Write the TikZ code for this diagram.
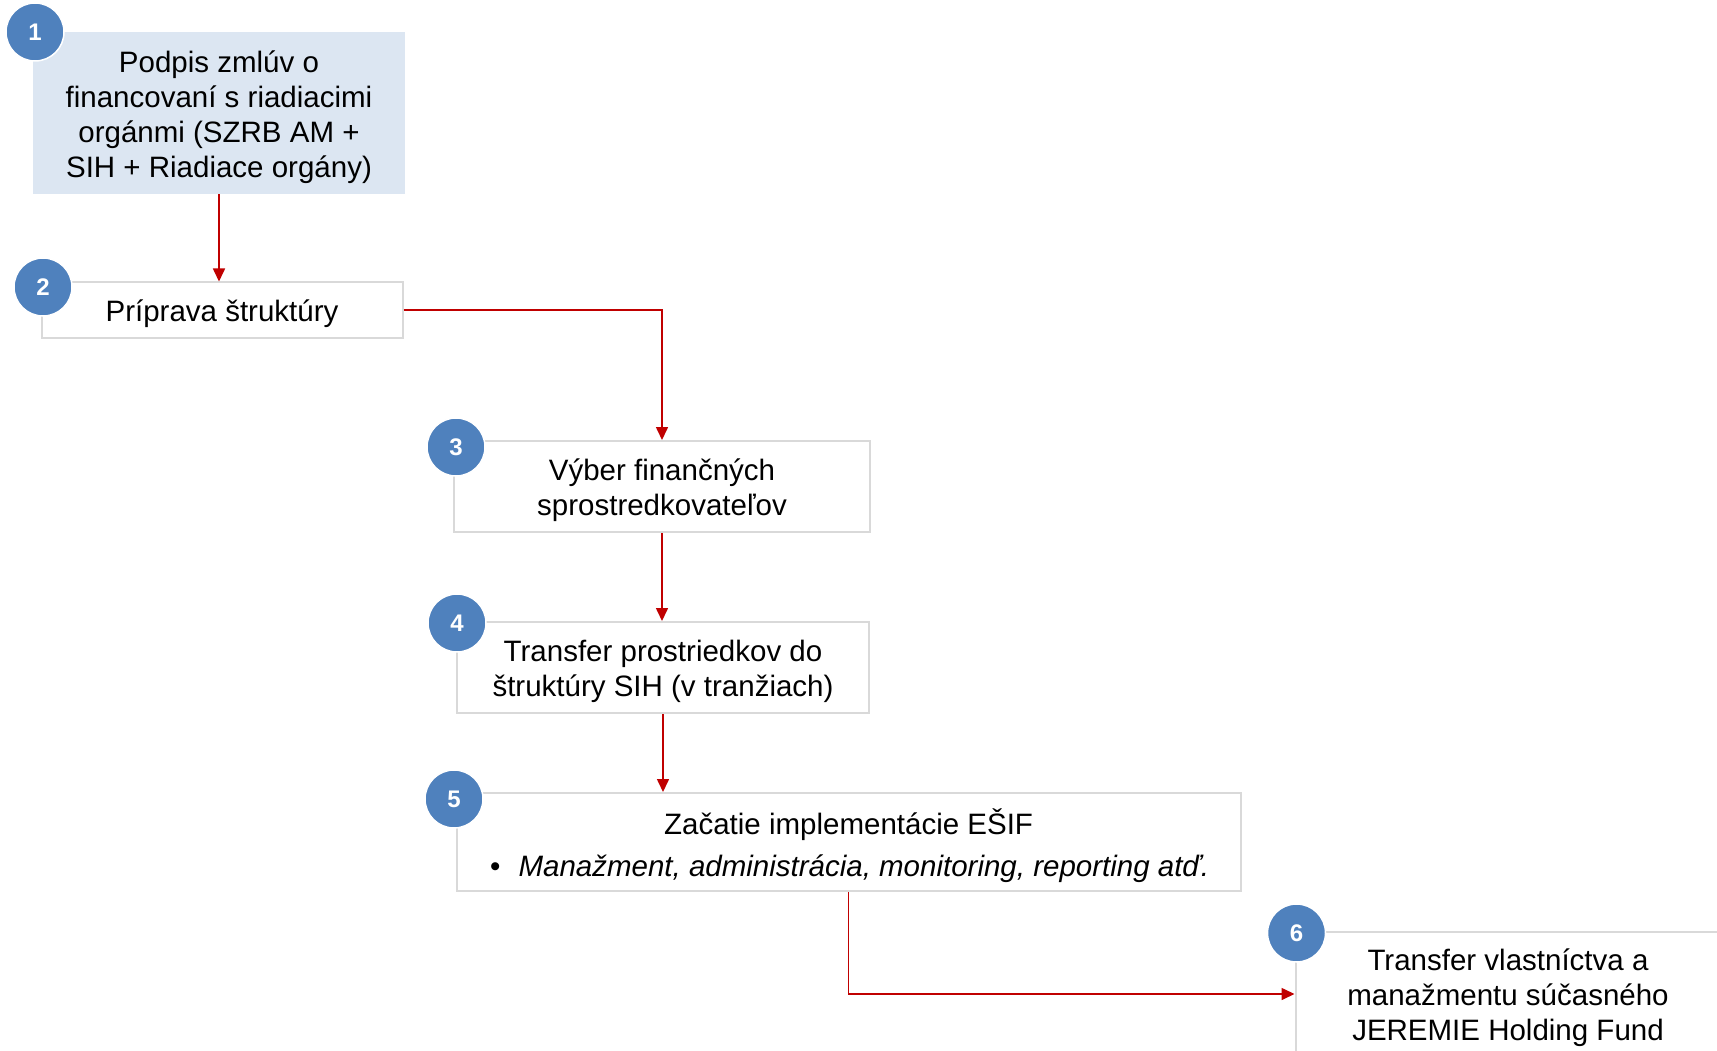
\documentclass[tikz,border=0pt]{standalone}
\usepackage{fontspec}
\setmainfont{Liberation Sans}
\usetikzlibrary{arrows.meta}
\definecolor{numblue}{HTML}{4F81BD}
\definecolor{boxfill}{HTML}{DCE6F2}
\definecolor{boxline}{HTML}{D9D9D9}
\definecolor{arrred}{HTML}{C00000}
\tikzset{
  stepbox/.style={draw=boxline, line width=2pt, fill=white, inner sep=0pt},
  firstbox/.style={fill=boxfill, inner sep=0pt},
  boxtext/.style={align=center, inner sep=0pt, yshift=-4pt, font=\fontsize{29.5}{35}\selectfont},
  numdot/.style={circle, fill=numblue, draw=white, line width=1.5pt, minimum size=58pt, inner sep=0pt,
    text=white, font=\fontsize{24}{26}\selectfont\bfseries},
  flow/.style={draw=arrred, line width=1.6pt, -{Triangle[length=13pt,width=12pt]}}
}
\begin{document}
\begin{tikzpicture}[x=1pt,y=-1pt]
\useasboundingbox (0,0) rectangle (1717,1051);
\clip (0,0) rectangle (1717,1051);
\fill[white] (0,0) rectangle (1717,1051);

\node[firstbox, minimum width=372pt, minimum height=162pt] (b1) at (219,113) {};
\node[boxtext] (t1) at (b1.center)
  {Podpis zmlúv o\\financovaní s riadiacimi\\orgánmi (SZRB AM +\\SIH + Riadiace orgány)};
\node[stepbox, minimum width=361pt, minimum height=55pt] (b2) at (222,310) {};
\node[boxtext] (t2) at (b2.center) {Príprava štruktúry};
\node[stepbox, minimum width=416pt, minimum height=91pt] (b3) at (662,486.5) {};
\node[boxtext] (t3) at (b3.center) {Výber finančných\\sprostredkovateľov};
\node[stepbox, minimum width=412pt, minimum height=91pt] (b4) at (663,667.5) {};
\node[boxtext] (t4) at (b4.center) {Transfer prostriedkov do\\štruktúry SIH (v tranžiach)};
\node[stepbox, minimum width=784pt, minimum height=98pt] (b5) at (848.6,842) {};
\node[boxtext] (t5a) at (848.6,821) {Začatie implementácie EŠIF};
\node[boxtext, anchor=west] (t5b) at (490,865)
  {\textbullet\hspace{18pt}\textit{Manažment, administrácia, monitoring, reporting atď.}};
\node[stepbox, minimum width=425pt, minimum height=124pt] (b6) at (1508,994) {};
\node[boxtext] (t6) at (b6.center)
  {Transfer vlastníctva a\\manažmentu súčasného\\JEREMIE Holding Fund};

\draw[flow] (b1.south) -- (b1.south |- b2.north);
\draw[flow] (b2.east) -| (b3.north);
\draw[flow] (b3.south) -- (b3.south |- b4.north);
\draw[flow] (b4.south) -- (b4.south |- b5.north);
\draw[flow] (b5.south) |- (b6.west);

\node[numdot] (c1) at (35,32) {1};
\node[numdot] (c2) at (43,287) {2};
\node[numdot] (c3) at (456,447) {3};
\node[numdot] (c4) at (457,623) {4};
\node[numdot] (c5) at (454,799) {5};
\node[numdot] (c6) at (1296.5,933) {6};
\end{tikzpicture}
\end{document}
